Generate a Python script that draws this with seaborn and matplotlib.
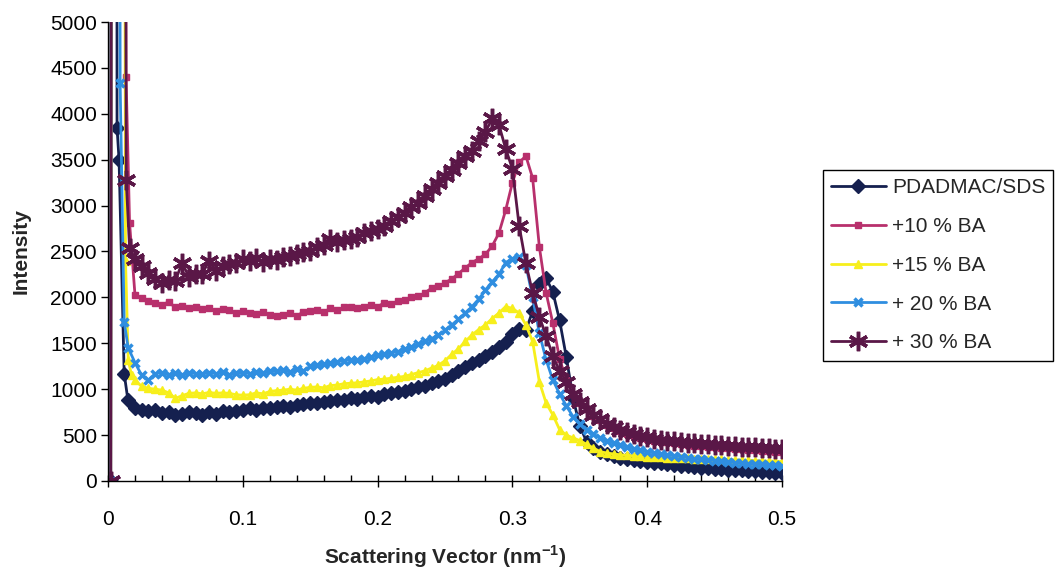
import numpy as np
import pandas as pd
import matplotlib
matplotlib.use("Agg")
import matplotlib.pyplot as plt
from matplotlib.ticker import MultipleLocator
import seaborn as sns

# ---------------- data ----------------
series_names = ["PDADMAC/SDS", "+10 % BA", "+15 % BA", "+ 20 % BA", "+ 30 % BA"]

# common q grid (nm^-1) after the beam-stop region
q_grid = [round(0.020 + 0.005 * i, 3) for i in range(97)]

# early (beam-stop) points, per series
early_q = {
    "PDADMAC/SDS": [0.002, 0.005, 0.0067, 0.0082, 0.012, 0.0148],
    "+10 % BA": [0.002, 0.006, 0.0134, 0.016],
    "+15 % BA": [0.002, 0.006, 0.013, 0.015, 0.0175],
    "+ 20 % BA": [0.002, 0.005, 0.009, 0.012, 0.015],
    "+ 30 % BA": [0.002, 0.006, 0.0135, 0.016],
}
early_I = {
    "PDADMAC/SDS": [0, 60000, 3850, 3500, 1170, 880],
    "+10 % BA": [0, 60000, 4400, 2810],
    "+15 % BA": [0, 60000, 2400, 1320, 1150],
    "+ 20 % BA": [0, 60000, 4340, 1730, 1450],
    "+ 30 % BA": [0, 60000, 3280, 2540],
}

I_pdadmac = [
    800, 775, 760, 770, 745, 750, 715, 730, 755, 740,
    720, 755, 735, 765, 750, 760, 775, 790, 770, 795,
    790, 810, 815, 810, 830, 840, 850, 845, 860, 870,
    880, 885, 900, 895, 910, 925, 920, 945, 955, 970,
    985, 1005, 1025, 1040, 1065, 1085, 1110, 1150, 1195, 1240,
    1280, 1320, 1365, 1400, 1455, 1510, 1600, 1660, 1640, 1850,
    2150, 2210, 2060, 1750, 1350, 900, 600, 430, 360, 320,
    290, 270, 255, 240, 230, 220, 210, 200, 195, 185,
    175, 165, 160, 150, 145, 140, 135, 130, 125, 120,
    115, 110, 105, 100, 95, 90, 85,
]
I_ba10 = [
    2030, 1990, 1960, 1940, 1920, 1950, 1890, 1910, 1880, 1900,
    1870, 1880, 1850, 1870, 1860, 1830, 1850, 1830, 1820, 1840,
    1810, 1800, 1810, 1830, 1800, 1840, 1850, 1860, 1840, 1880,
    1860, 1890, 1895, 1880, 1900, 1920, 1900, 1940, 1930, 1960,
    1975, 2000, 2010, 2050, 2100, 2120, 2160, 2200, 2260, 2320,
    2380, 2420, 2470, 2560, 2700, 2950, 3250, 3470, 3540, 3300,
    2550, 2050, 1720, 1330, 1100, 950, 850, 780, 710, 660,
    610, 575, 545, 515, 490, 470, 455, 440, 430, 420,
    410, 400, 395, 385, 380, 370, 365, 360, 355, 350,
    345, 340, 335, 330, 325, 320, 315,
]
I_ba15 = [
    1100, 1030, 1010, 1000, 990, 960, 900, 930, 955, 960,
    950, 965, 955, 960, 955, 940, 935, 940, 960, 950,
    975, 985, 990, 1000, 990, 1010, 1020, 1025, 1015, 1040,
    1045, 1060, 1065, 1070, 1080, 1090, 1105, 1110, 1120, 1130,
    1140, 1160, 1180, 1200, 1230, 1260, 1310, 1380, 1440, 1520,
    1590, 1650, 1700, 1770, 1830, 1900, 1880, 1830, 1700, 1520,
    1080, 850, 720, 560, 500, 470, 440, 400, 360, 320,
    305, 295, 285, 280, 275, 270, 265, 262, 258, 255,
    252, 250, 247, 245, 242, 240, 237, 235, 232, 230,
    227, 225, 222, 220, 217, 215, 212,
]
I_ba20 = [
    1290, 1150, 1100, 1170, 1180, 1160, 1175, 1150, 1180, 1170,
    1165, 1180, 1170, 1185, 1160, 1175, 1180, 1170, 1190, 1175,
    1195, 1200, 1210, 1190, 1220, 1200, 1250, 1260, 1270, 1280,
    1300, 1310, 1320, 1315, 1330, 1350, 1370, 1380, 1395, 1410,
    1440, 1460, 1490, 1520, 1550, 1590, 1640, 1700, 1760, 1830,
    1900, 1980, 2080, 2170, 2250, 2380, 2420, 2440, 2350, 2000,
    1610, 1320, 1100, 950, 820, 700, 620, 560, 510, 470,
    440, 415, 390, 370, 350, 335, 320, 305, 295, 285,
    275, 265, 255, 245, 235, 230, 222, 215, 208, 200,
    195, 190, 185, 180, 175, 170, 165,
]
I_ba30 = [
    2420, 2340, 2270, 2200, 2160, 2190, 2180, 2380, 2220, 2250,
    2260, 2400, 2290, 2340, 2360, 2380, 2420, 2400, 2430, 2390,
    2420, 2410, 2440, 2450, 2470, 2490, 2510, 2550, 2570, 2640,
    2600, 2620, 2640, 2660, 2700, 2720, 2750, 2780, 2830, 2880,
    2920, 2980, 3030, 3100, 3180, 3250, 3320, 3390, 3460, 3540,
    3600, 3700, 3800, 3950, 3880, 3620, 3400, 2780, 2370, 2050,
    1790, 1580, 1360, 1200, 1080, 950, 860, 780, 720, 670,
    625, 590, 560, 535, 510, 490, 475, 460, 450, 440,
    432, 425, 418, 412, 406, 400, 395, 390, 385, 380,
    375, 370, 365, 360, 355, 350, 345,
]
grid_I = {
    "PDADMAC/SDS": I_pdadmac,
    "+10 % BA": I_ba10,
    "+15 % BA": I_ba15,
    "+ 20 % BA": I_ba20,
    "+ 30 % BA": I_ba30,
}

x_ticks = [0, 0.1, 0.2, 0.3, 0.4, 0.5]
x_tick_labels = ["0", "0.1", "0.2", "0.3", "0.4", "0.5"]
y_ticks = [0, 500, 1000, 1500, 2000, 2500, 3000, 3500, 4000, 4500, 5000]
y_tick_labels = [str(v) for v in y_ticks]

# ---------------- style ----------------
sns.set_style("ticks")
plt.rcParams["font.family"] = ["Liberation Sans", "DejaVu Sans"]
plt.rcParams["mathtext.fontset"] = "custom"
plt.rcParams["mathtext.rm"] = "Liberation Sans"
plt.rcParams["mathtext.bf"] = "Liberation Sans:bold"

colors = {
    "PDADMAC/SDS": "#15204f",
    "+10 % BA": "#b8306c",
    "+15 % BA": "#f7ef1c",
    "+ 20 % BA": "#2f8ee0",
    "+ 30 % BA": "#5a1747",
}
markers = {
    "PDADMAC/SDS": dict(marker="D", markersize=7.5, markeredgewidth=1),
    "+10 % BA": dict(marker="s", markersize=5, markeredgewidth=1),
    "+15 % BA": dict(marker="^", markersize=5.5, markeredgewidth=1),
    "+ 20 % BA": dict(marker="x", markersize=5.5, markeredgewidth=2.5),
    "+ 30 % BA": dict(marker=(6, 2, 0), markersize=14, markeredgewidth=2.5),
}

fig = plt.figure(figsize=(10.64, 5.74), dpi=100)
ax = fig.add_axes([108 / 1064, 93 / 574, 674 / 1064, 459 / 574])

for name in series_names:
    q = early_q[name] + q_grid
    I = early_I[name] + grid_I[name]
    df = pd.DataFrame({"q": q, "I": I})
    c = colors[name]
    sns.lineplot(data=df, x="q", y="I", ax=ax, sort=False, errorbar=None,
                 color=c, linewidth=2, markerfacecolor=c, markeredgecolor=c,
                 label=name, **markers[name])

ax.set_xlim(0, 0.5)
ax.set_ylim(0, 5000)
ax.set_xticks(x_ticks)
ax.set_xticklabels(x_tick_labels)
ax.xaxis.set_minor_locator(MultipleLocator(0.02))
ax.set_yticks(y_ticks)
ax.set_yticklabels(y_tick_labels)

sns.despine(ax=ax)
for sp in ["left", "bottom"]:
    ax.spines[sp].set_color("black")
    ax.spines[sp].set_linewidth(1.0)

ax.tick_params(axis="x", which="major", direction="inout", length=8, width=1,
               pad=17, labelsize=15, colors="black")
ax.tick_params(axis="x", which="minor", direction="in", length=4, width=1,
               colors="black")
ax.tick_params(axis="y", which="major", direction="out", length=5, width=1,
               pad=3, labelsize=15, colors="black")

ax.set_xlabel(r"Scattering Vector (nm$^{\mathbf{-1}}$)", fontsize=15,
              fontweight="bold", labelpad=10)
ax.set_ylabel("Intensity", fontsize=15, fontweight="bold", labelpad=14)

leg = ax.legend(loc="upper left", bbox_to_anchor=(823 / 1064, 1 - 170 / 574),
                bbox_transform=fig.transFigure, borderaxespad=0,
                fontsize=15, frameon=True, fancybox=False, framealpha=1,
                edgecolor="black", handlelength=2.6, handletextpad=0.3,
                labelspacing=0.95, borderpad=0.4, numpoints=1)
leg.get_frame().set_linewidth(1.0)

fig.savefig("out.png", dpi=100, facecolor="white")
